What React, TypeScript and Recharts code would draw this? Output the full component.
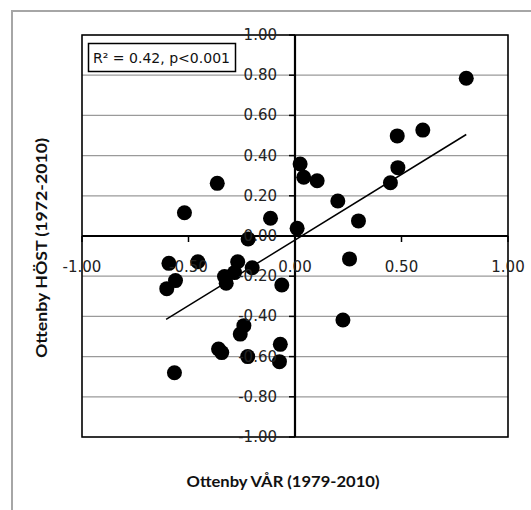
import React from 'react';
import {
  ScatterChart,
  Scatter,
  XAxis,
  YAxis,
  CartesianGrid,
  ReferenceLine,
  ReferenceArea,
} from 'recharts';

// Ottenby VÅR (spring) index values, x axis
const springValues = [
  -0.365, -0.519, -0.115, -0.22, 0.804, 0.6, 0.48, 0.483, 0.448, 0.024, 0.041, 0.104,
  0.201, 0.298, 0.01, -0.592, -0.561, -0.602, -0.456, -0.269, -0.201, -0.284, -0.331,
  -0.323, -0.062, -0.24, -0.257, -0.359, -0.344, -0.222, -0.069, -0.073, -0.566, 0.256,
  0.225,
];
// Ottenby HÖST (autumn) index values, y axis
const autumnValues = [
  0.262, 0.116, 0.088, -0.015, 0.785, 0.527, 0.498, 0.34, 0.265, 0.358, 0.292, 0.275,
  0.174, 0.075, 0.038, -0.136, -0.222, -0.262, -0.128, -0.128, -0.158, -0.182, -0.202,
  -0.235, -0.244, -0.446, -0.488, -0.562, -0.58, -0.6, -0.539, -0.625, -0.68, -0.114,
  -0.418,
];
// Linear trend line endpoints
const trendStart = { x: -0.605, y: -0.415 };
const trendEnd = { x: 0.804, y: 0.505 };

const xTicks = [-1, -0.5, 0, 0.5, 1];
const yTicks = [-1, -0.8, -0.6, -0.4, -0.2, 0, 0.2, 0.4, 0.6, 0.8, 1];

const statsLabel = 'R² = 0.42, p<0.001';
const xTitle = 'Ottenby VÅR (1979-2010)';
const yTitle = 'Ottenby HÖST (1972-2010)';

const points = springValues.map((x, i) => ({ x, y: autumnValues[i] }));

const W = 523;
const H = 502;
const AXIS_SIZE = 10;
const PLOT = { top: 27, right: 23, bottom: 73, left: 74 };
const MARGIN = {
  top: PLOT.top,
  right: PLOT.right,
  bottom: PLOT.bottom - AXIS_SIZE,
  left: PLOT.left - AXIS_SIZE,
};
const PLOT_W = W - PLOT.left - PLOT.right;
const PLOT_H = H - PLOT.top - PLOT.bottom;
const ZERO_X = PLOT.left + PLOT_W / 2;
const ZERO_Y = PLOT.top + PLOT_H / 2;

const tickFont = '"DejaVu Sans", Verdana, sans-serif';
const titleFont = 'Lato, "Open Sans", sans-serif';

const YTick = (props: any) => {
  const { y, payload } = props;
  return (
    <g>
      <line x1={ZERO_X - 6} x2={ZERO_X} y1={y} y2={y} stroke="#000" strokeWidth={1.5} />
      <text
        x={ZERO_X - 18}
        y={y}
        textAnchor="end"
        dominantBaseline="central"
        fontFamily={tickFont}
        fontSize={15}
        fill="#222"
      >
        {Number(payload.value).toFixed(2)}
      </text>
    </g>
  );
};

const XTick = (props: any) => {
  const { x, payload } = props;
  return (
    <g>
      <line x1={x} x2={x} y1={ZERO_Y} y2={ZERO_Y + 6} stroke="#000" strokeWidth={1.5} />
      <text
        x={x}
        y={ZERO_Y + 31}
        textAnchor="middle"
        dominantBaseline="central"
        fontFamily={tickFont}
        fontSize={15}
        fill="#222"
      >
        {Number(payload.value).toFixed(2)}
      </text>
    </g>
  );
};

const Dot = (props: any) => {
  const { cx, cy } = props;
  return <circle cx={cx} cy={cy} r={7.5} fill="#000" />;
};

export default function App() {
  return (
    <div style={{ position: 'fixed', left: 8, top: 8, width: W, height: H, background: '#fff' }}>
      <div
        style={{
          position: 'absolute',
          left: 3,
          top: 2,
          width: W - 3,
          height: H - 2,
          boxSizing: 'border-box',
          borderTop: '2px solid #a6a6a6',
          borderLeft: '2px solid #a6a6a6',
        }}
      />
      <div style={{ position: 'absolute', left: 0, top: 0 }}>
        <ScatterChart width={W} height={H} margin={MARGIN}>
          <CartesianGrid horizontal vertical={false} stroke="#9a9a9a" strokeWidth={1.2} />
          <ReferenceArea
            x1={-1}
            x2={1}
            y1={-1}
            y2={1}
            fill="none"
            fillOpacity={0}
            stroke="#000"
            strokeWidth={1.6}
            ifOverflow="visible"
          />
          <XAxis
            type="number"
            dataKey="x"
            domain={[-1, 1]}
            ticks={xTicks}
            height={AXIS_SIZE}
            axisLine={false}
            tickLine={false}
            tick={<XTick />}
            interval={0}
            allowDataOverflow
          />
          <YAxis
            type="number"
            dataKey="y"
            domain={[-1, 1]}
            ticks={yTicks}
            width={AXIS_SIZE}
            axisLine={false}
            tickLine={false}
            tick={<YTick />}
            interval={0}
            allowDataOverflow
          />
          <ReferenceLine x={0} stroke="#000" strokeWidth={2.2} />
          <ReferenceLine y={0} stroke="#000" strokeWidth={2.2} />
          <Scatter data={points} shape={<Dot />} isAnimationActive={false} />
          <ReferenceLine
            segment={[trendStart, trendEnd]}
            stroke="#000"
            strokeWidth={1.5}
            ifOverflow="visible"
          />
        </ScatterChart>
      </div>
      <svg
        width={W}
        height={H}
        style={{ position: 'absolute', left: 0, top: 0, pointerEvents: 'none' }}
      >
        <rect x={80.5} y={35.5} width={147} height={28} fill="#fff" stroke="#000" strokeWidth={1.5} />
        <text
          x={85}
          y={49.5}
          dominantBaseline="central"
          fontFamily={tickFont}
          fontSize={14.5}
          fill="#111"
          textLength={137}
          lengthAdjust="spacingAndGlyphs"
        >
          {statsLabel}
        </text>
        <text
          x={275}
          y={473}
          textAnchor="middle"
          dominantBaseline="central"
          fontFamily={titleFont}
          fontWeight="bold"
          fontSize={15}
          fill="#111"
          textLength={193}
          lengthAdjust="spacingAndGlyphs"
        >
          {xTitle}
        </text>
        <text
          x={0}
          y={0}
          transform={`translate(32.5, 240) rotate(-90)`}
          textAnchor="middle"
          dominantBaseline="central"
          fontFamily={titleFont}
          fontWeight="bold"
          fontSize={15}
          fill="#111"
          textLength={220}
          lengthAdjust="spacingAndGlyphs"
        >
          {yTitle}
        </text>
      </svg>
    </div>
  );
}
